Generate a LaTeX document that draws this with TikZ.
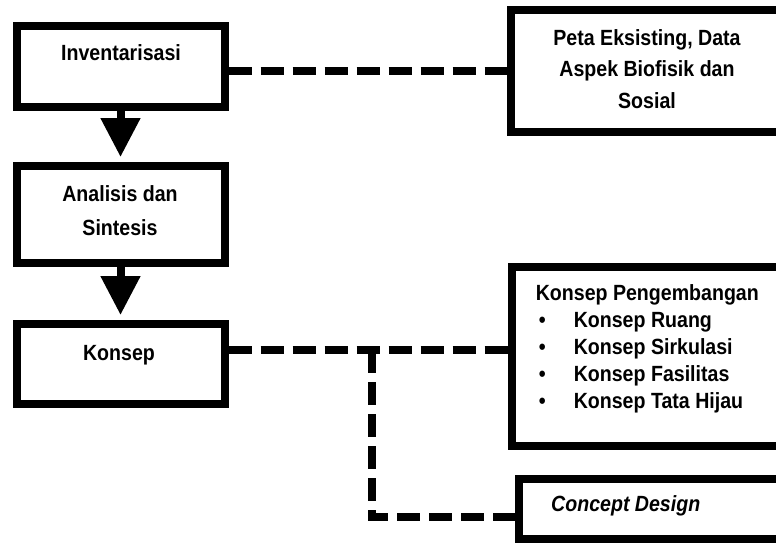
\documentclass[tikz,border=0pt]{standalone}
\usepackage{fontspec}
\setmainfont[FakeStretch=0.89]{Liberation Sans}
\usetikzlibrary{positioning,arrows.meta}
\tikzset{%
  box/.style={draw,line width=8pt,inner sep=0,minimum width=208pt},
  lnk/.style={line width=8pt,dash pattern=on 23pt off 9pt},
  flow/.style={line width=8pt,-{Triangle[width=38pt,length=39pt]},shorten >=5pt},
  lbl/.style={inner sep=0,align=center,font=\fontsize{22}{#1}\selectfont\bfseries},
  lbl/.default=26pt
}
\newcommand{\butir}{\makebox[38pt][l]{\hspace{3pt}\textbullet}}

\begin{document}
\begin{tikzpicture}[x=1pt,y=-1pt]
  \useasboundingbox (0,0) rectangle (776,543);
  % kolom kiri
  \node [box,minimum height=81pt] (inv) at (120.5,66.5) {};
  \node [box,minimum height=97pt,below=51pt of inv] (ana) {};
  \node [box,minimum height=80pt,below=53pt of ana] (kon) {};

  \node [lbl,anchor=base] (tinv) at (121,61) {Inventarisasi};
  \node [lbl=34pt,anchor=north] (tana) at (120,185) {Analisis dan\\Sintesis};
  \node [lbl,anchor=base] (tkon) at (119,360) {Konsep};

  % kolom kanan
  \node [box,minimum width=272pt,minimum height=122pt] (peta) at (647,71) {};
  \node [box,minimum width=271pt,minimum height=179pt] (kp) at (647.5,356.5) {};
  \node [box,minimum width=264pt,minimum height=60pt] (cd) at (651,509) {};

  \node [lbl=31.5pt,anchor=north] (tpeta) at (647,29)
    {Peta Eksisting, Data\\Aspek Biofisik dan\\Sosial};
  \node [lbl=27pt,align=left,anchor=north west] (tkp) at (535.6,284)
    {Konsep Pengembangan\\\butir Konsep Ruang\\\butir Konsep Sirkulasi\\
     \butir Konsep Fasilitas\\\butir Konsep Tata Hijau};
  \node [lbl,anchor=base west] (tcd) at (551,511) {\itshape Concept Design};

  % alur
  \draw [flow] (inv) -- (ana);
  \draw [flow] (ana) -- (kon);

  % garis putus-putus
  \coordinate (jt) at (372,350);
  \coordinate (jb) at (372,517);
  \draw [lnk] (inv.east |- peta.west) -- (peta.west);
  \draw [lnk] (kon.east |- jt) -- (jt -| kp.west);
  \draw [lnk] (jt) -- (jb) -- (jb -| cd.west);
\end{tikzpicture}
\end{document}
